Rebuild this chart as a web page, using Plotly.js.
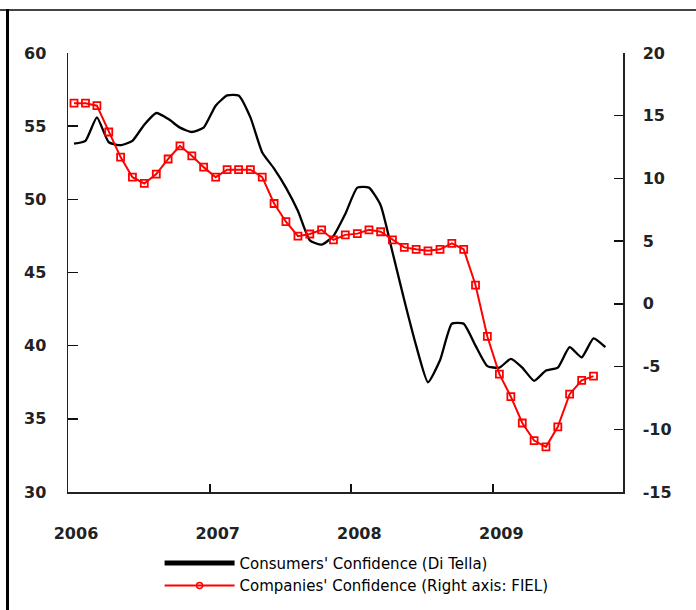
<!DOCTYPE html>
<html>
<head>
<meta charset="utf-8">
<script src="https://cdn.plot.ly/plotly-3.0.1.min.js"></script>
<style>
  html, body { margin: 0; padding: 0; background: #fff; }
  #chart { width: 696px; height: 610px; }
</style>
</head>
<body>
<div id="chart"></div>
<script>
// Months (points placed at mid-month)
var monthsConsumers = [
  "2006-01","2006-02","2006-03","2006-04","2006-05","2006-06","2006-07","2006-08","2006-09","2006-10","2006-11","2006-12",
  "2007-01","2007-02","2007-03","2007-04","2007-05","2007-06","2007-07","2007-08","2007-09","2007-10","2007-11","2007-12",
  "2008-01","2008-02","2008-03","2008-04","2008-05","2008-06","2008-07","2008-08","2008-09","2008-10","2008-11","2008-12",
  "2009-01","2009-02","2009-03","2009-04","2009-05","2009-06","2009-07","2009-08","2009-09","2009-10"
];
var monthsCompanies = [
  "2006-01","2006-02","2006-03","2006-04","2006-05","2006-06","2006-07","2006-08","2006-09","2006-10","2006-11","2006-12",
  "2007-01","2007-02","2007-03","2007-04","2007-05","2007-06","2007-07","2007-08","2007-09","2007-10","2007-11","2007-12",
  "2008-01","2008-02","2008-03","2008-04","2008-05","2008-06","2008-07","2008-08","2008-09","2008-10","2008-11","2008-12",
  "2009-01","2009-02","2009-03","2009-04","2009-05","2009-06","2009-07","2009-08","2009-09"
];

// Consumers' Confidence (Di Tella) - left axis
var consumers = [
  53.8, 54.0, 55.6, 53.9, 53.7, 54.0, 55.1, 55.9, 55.5, 54.9, 54.6, 54.9,
  56.4, 57.1, 57.1, 55.6, 53.2, 52.1, 50.8, 49.2, 47.2, 46.9, 47.5, 49.0,
  50.8, 50.8, 49.6, 46.4, 43.1, 40.0, 37.5, 39.0, 41.5, 41.5, 40.0, 38.6,
  38.5, 39.1, 38.5, 37.6, 38.3, 38.5, 39.9, 39.2, 40.5, 39.9
];

// Companies' Confidence (FIEL) - right axis
var companies = [
  16.0, 16.0, 15.8, 13.7, 11.7, 10.1, 9.6, 10.35, 11.55, 12.6, 11.8, 10.9,
  10.1, 10.7, 10.7, 10.7, 10.1, 8.0, 6.55, 5.4, 5.57, 5.9, 5.1, 5.5,
  5.6, 5.9, 5.75, 5.1, 4.5, 4.35, 4.23, 4.35, 4.82, 4.35, 1.5, -2.6,
  -5.6, -7.4, -9.5, -10.9, -11.4, -9.8, -7.2, -6.1, -5.76
];

var seriesNames = ["Consumers' Confidence (Di Tella)", "Companies' Confidence (Right axis: FIEL)"];

var xTickVals = ["2006-01-01","2007-01-01","2008-01-01","2009-01-01"];
var xTickText = ["2006","2007","2008","2009"];
var leftTickVals = [30, 35, 40, 45, 50, 55, 60];
var leftTickText = ["30","35","40","45","50","55","60"];
var rightTickVals = [-15, -10, -5, 0, 5, 10, 15, 20];
var rightTickText = ["-15","-10","-5","0","5","10","15","20"];

var tickFont = {family: "DejaVu Sans", size: 16, color: "#222", weight: "bold"};

var traces = [
  {
    x: monthsConsumers, y: consumers, type: "scatter", mode: "lines",
    xperiod: "M1", xperiodalignment: "middle",
    line: {color: "#000", width: 2.3, shape: "spline", smoothing: 0.5}, showlegend: false, hoverinfo: "skip"
  },
  {
    x: monthsCompanies, y: companies, type: "scatter", mode: "lines+markers", yaxis: "y2",
    xperiod: "M1", xperiodalignment: "middle",
    line: {color: "#ff0000", width: 2},
    marker: {symbol: "square-open", size: 7, color: "#ff0000", line: {width: 1.8, color: "#ff0000"}},
    showlegend: false, hoverinfo: "skip"
  },
  // legend entries
  {
    x: [null], y: [null], type: "scatter", mode: "lines", name: seriesNames[0],
    line: {color: "#000", width: 5}
  },
  {
    x: [null], y: [null], type: "scatter", mode: "lines+markers", name: seriesNames[1],
    line: {color: "#ff0000", width: 2},
    marker: {symbol: "circle-open", size: 6, color: "#ff0000", line: {width: 1.5, color: "#ff0000"}}
  }
];

var layout = {
  width: 696, height: 610,
  margin: {l: 68, r: 73, t: 53, b: 118, autoexpand: false},
  paper_bgcolor: "#fff", plot_bgcolor: "#fff",
  showlegend: true,
  legend: {
    x: 0.165, y: -0.1245, xanchor: "left", yanchor: "top",
    orientation: "v", itemwidth: 70, tracegroupgap: 0,
    font: {family: "DejaVu Sans", size: 15, color: "#000"},
    bgcolor: "rgba(0,0,0,0)"
  },
  xaxis: {
    type: "date", automargin: false,
    range: ["2006-01-01", "2009-12-01"],
    tickvals: xTickVals, ticktext: xTickText,
    ticks: "inside", ticklen: 8, tickwidth: 2, tickcolor: "#111",
    showline: true, linecolor: "#222", linewidth: 2,
    showgrid: false, zeroline: false,
    tickfont: tickFont, ticklabelstandoff: 26, ticklabelshift: 8
  },
  yaxis: {
    range: [30, 60], automargin: false,
    tickvals: leftTickVals, ticktext: leftTickText,
    ticks: "inside", ticklen: 10, tickwidth: 1.5, tickcolor: "#111",
    showline: true, linecolor: "#222", linewidth: 1.5,
    showgrid: false, zeroline: false,
    tickfont: tickFont, ticklabelstandoff: 17
  },
  yaxis2: {
    range: [-15, 20], overlaying: "y", side: "right", automargin: false,
    tickvals: rightTickVals, ticktext: rightTickText,
    ticks: "inside", ticklen: 9, tickwidth: 1.5, tickcolor: "#111",
    showline: true, linecolor: "#222", linewidth: 1.5,
    showgrid: false, zeroline: false,
    tickfont: tickFont, ticklabelstandoff: 15
  },
  shapes: [
    {type: "line", xref: "paper", yref: "paper", x0: -0.125, x1: 1.14, y0: 1.098, y1: 1.098,
     line: {color: "#444", width: 2}},
    {type: "line", xref: "paper", yref: "paper", x0: -0.109, x1: -0.109, y0: -0.28, y1: 1.1,
     line: {color: "#000", width: 3}}
  ]
};

Plotly.newPlot("chart", traces, layout, {displayModeBar: false, staticPlot: true});
</script>
</body>
</html>
